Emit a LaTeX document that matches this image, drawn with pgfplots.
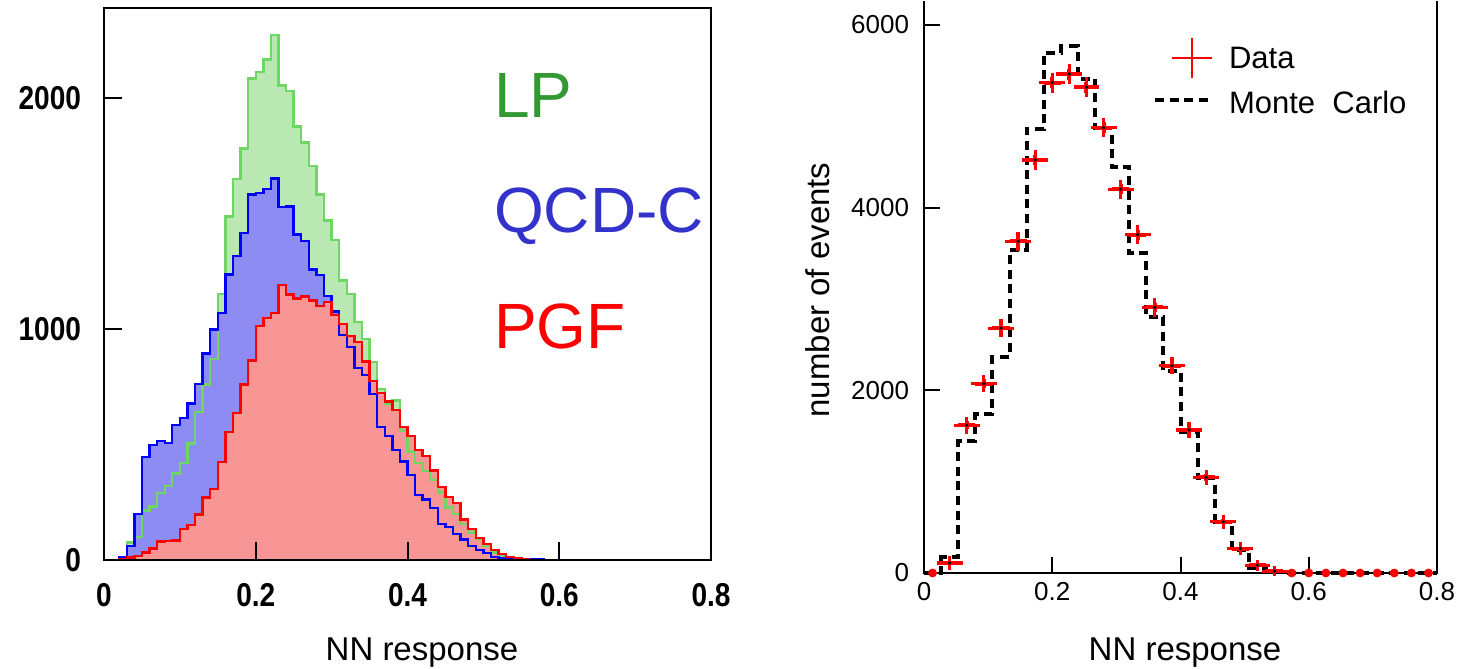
\documentclass[border=0pt]{standalone}
\usepackage{pgfplots}
\pgfplotsset{compat=1.18}
\usepackage{pgfplotstable}
\usepackage{fontspec}
\setmainfont{Liberation Sans}
\usepackage{graphicx}
\definecolor{gline}{RGB}{110,215,100}
\definecolor{gfill}{RGB}{185,232,178}
\definecolor{bline}{RGB}{0,0,255}
\definecolor{bfill}{RGB}{140,140,242}
\definecolor{rline}{RGB}{255,0,0}
\definecolor{rfill}{RGB}{248,150,150}
\definecolor{lpcol}{RGB}{51,153,51}
\definecolor{qcdcol}{RGB}{51,51,204}
\newcommand\lb[1]{\scalebox{0.85}[1]{\bfseries #1}}
\pgfplotstableread{
x g b r
0.00 0 0 0
0.01 0 0 0
0.02 5 10 3
0.03 75 60 10
0.04 100 200 18
0.05 215 445 33
0.06 232 498 50
0.07 290 515 80
0.08 320 507 82
0.09 375 584 85
0.10 420 616 135
0.11 505 677 152
0.12 640 762 197
0.13 760 894 270
0.14 870 998 308
0.15 1152 1070 423
0.16 1487 1236 553
0.17 1650 1317 637
0.18 1782 1416 760
0.19 2084 1583 863
0.20 2114 1590 1012
0.21 2167 1605 1047
0.22 2272 1652 1069
0.23 2054 1527 1190
0.24 2030 1530 1150
0.25 1877 1409 1133
0.26 1808 1380 1140
0.27 1705 1258 1124
0.28 1583 1234 1100
0.29 1470 1144 1118
0.30 1386 1075 1060
0.31 1210 974 1022
0.32 1152 923 970
0.33 1031 831 945
0.34 956 800 860
0.35 856 719 775
0.36 740 577 722
0.37 675 537 686
0.38 690 476 650
0.39 560 426 577
0.40 470 368 537
0.41 420 281 476
0.42 385 262 450
0.43 346 224 387
0.44 292 156 315
0.45 228 144 274
0.46 199 113 248
0.47 156 89 176
0.48 119 61 133
0.49 90 43 94
0.50 62 29 69
0.51 32 14 43
0.52 17 7 26
0.53 8 4 14
0.54 3 4 6
0.55 1 3 3
0.56 0 3 1
0.57 0 2 0
0.58 0 0 0
0.59 0 0 0
}\lefthist
\pgfplotstableread{
x r
0.59 0
0.80 0
}\redtail
\pgfplotstableread{
x y
0.000000 0
0.026667 170
0.053333 1445
0.080000 1737
0.106667 2364
0.133333 3538
0.160000 4858
0.186667 5696
0.213333 5765
0.240000 5413
0.266667 4866
0.293333 4441
0.320000 3498
0.346667 2802
0.373333 2215
0.400000 1547
0.426667 1040
0.453333 561
0.480000 255
0.506667 50
0.533333 10
0.560000 0
0.800000 0
}\mc
\pgfplotstableread{
x y ex ey
0.040000 110 0.013333 25
0.066667 1619 0.013333 45
0.093333 2073 0.013333 48
0.120000 2680 0.013333 50
0.146667 3632 0.013333 55
0.173333 4522 0.013333 58
0.200000 5368 0.013333 60
0.226667 5462 0.013333 60
0.253333 5320 0.013333 60
0.280000 4874 0.013333 58
0.306667 4202 0.013333 55
0.333333 3704 0.013333 55
0.360000 2907 0.013333 52
0.386667 2270 0.013333 48
0.413333 1566 0.013333 42
0.440000 1046 0.013333 35
0.466667 561 0.013333 28
0.493333 268 0.013333 20
0.520000 84 0.013333 12
0.546667 20 0.013333 6
}\data
\pgfplotstableread{
x y ex ey
0.013333 0 0.003 0
0.573333 0 0.003 0
0.600000 0 0.003 0
0.626667 0 0.003 0
0.653333 0 0.003 0
0.680000 0 0.003 0
0.706667 0 0.003 0
0.733333 0 0.003 0
0.760000 0 0.003 0
0.786667 0 0.003 0
}\datazero
\begin{document}
\begin{tikzpicture}[x=0.5bp,y=0.5bp]
\useasboundingbox (0,0) rectangle (1457,669);
% ---------------- left panel
\begin{axis}[at={(52bp,54.5bp)}, anchor=south west, scale only axis,
  width=303.5bp, height=276bp,
  xmin=0, xmax=0.8, ymin=0, ymax=2390,
  axis on top,
  axis line style={line width=1bp},
  xtick={0,0.2,0.4,0.6,0.8},
  xticklabels={\lb{0},\lb{0.2},\lb{0.4},\lb{0.6},\lb{0.8}},
  ytick={0,1000,2000},
  yticklabels={\lb{0},\lb{1000},\lb{2000}},
  tick align=inside, xtick pos=bottom, ytick pos=left,
  major tick length=9bp,
  tick style={line width=1bp, black},
  xticklabel style={font=\fontsize{16.5bp}{18bp}\selectfont, yshift=-8bp},
  yticklabel style={font=\fontsize{16.5bp}{18bp}\selectfont, xshift=-8bp},
]
\addplot[const plot, fill=gfill, draw=none] table[x=x,y=g]{\lefthist} \closedcycle;
\addplot[const plot, fill=bfill, draw=none] table[x=x,y=b]{\lefthist} \closedcycle;
\addplot[const plot, fill=rfill, draw=none] table[x=x,y=r]{\lefthist} \closedcycle;
\addplot[const plot, draw=gline, line width=1.2bp] table[x=x,y=g]{\lefthist};
\addplot[const plot, draw=bline, line width=1.2bp] table[x=x,y=b]{\lefthist};
\addplot[const plot, draw=rline, line width=1.2bp] table[x=x,y=r]{\lefthist};
\addplot[const plot, draw=rline, line width=1.2bp] table[x=x,y=r]{\redtail};
\end{axis}
\node[anchor=base west, text=lpcol, font=\fontsize{32bp}{36bp}\selectfont] at (487,551) {LP};
\node[anchor=base west, text=qcdcol, font=\fontsize{32bp}{36bp}\selectfont] at (487,436) {QCD-C};
\node[anchor=base west, text=rline, font=\fontsize{32bp}{36bp}\selectfont] at (487,320) {PGF};
\node[anchor=base, font=\fontsize{16.5bp}{18bp}\selectfont] at (422,8) {NN response};
% ---------------- right panel
\begin{axis}[at={(462bp,48bp)}, anchor=south west, scale only axis,
  width=256.5bp, height=286bp,
  xmin=0, xmax=0.8, ymin=0, ymax=6262,
  axis line style={draw=none},
  xtick={0,0.2,0.4,0.6,0.8},
  ytick={0,2000,4000,6000},
  tick align=inside, xtick pos=bottom, ytick pos=left,
  major tick length=8bp,
  tick style={line width=1bp, black},
  /pgf/number format/assume math mode=true,
  /pgf/number format/fixed,
  /pgf/number format/1000 sep={},
  xticklabel style={font=\fontsize{13bp}{15bp}\selectfont, yshift=-1bp},
  yticklabel style={font=\fontsize{13bp}{15bp}\selectfont, xshift=-4bp},
  clip=false,
]
\draw[line width=1bp] (rel axis cs:0,1) -- (rel axis cs:0,0) -- (rel axis cs:1,0) -- (rel axis cs:1,1);
\addplot[const plot, black, line width=2bp, dash pattern=on 4.5bp off 2.8bp] table[x=x,y=y]{\mc};
\addplot[only marks, mark=*, mark size=0.6bp, black,
  error bars/.cd, x dir=both, x explicit, y dir=both, y explicit,
  error bar style={line width=2bp, red},
  error mark options={red, line width=1.6bp, mark size=2.2bp}]
  table[x=x,y=y,x error=ex,y error=ey]{\data};
\addplot[only marks, mark=none, red,
  error bars/.cd, x dir=both, x explicit,
  error bar style={line width=2bp, red},
  error mark=none]
  table[x=x,y=y,x error=ex,y error=ey]{\datazero};
\end{axis}
\draw[red, line width=1bp] (1172,611) -- (1212,611) (1192,591) -- (1192,631);
\node[anchor=west, font=\fontsize{15.5bp}{17bp}\selectfont] at (1222,611) {Data};
\draw[black, line width=2bp, dash pattern=on 4.5bp off 2.8bp] (1155,569) -- (1212,569);
\node[anchor=west, font=\fontsize{15.5bp}{17bp}\selectfont] at (1222,567) {Monte\ \ Carlo};
\node[rotate=90, font=\fontsize{16.5bp}{18bp}\selectfont] at (818,379) {number of events};
\node[anchor=base, font=\fontsize{16.5bp}{18bp}\selectfont] at (1185,8) {NN response};
\end{tikzpicture}
\end{document}
